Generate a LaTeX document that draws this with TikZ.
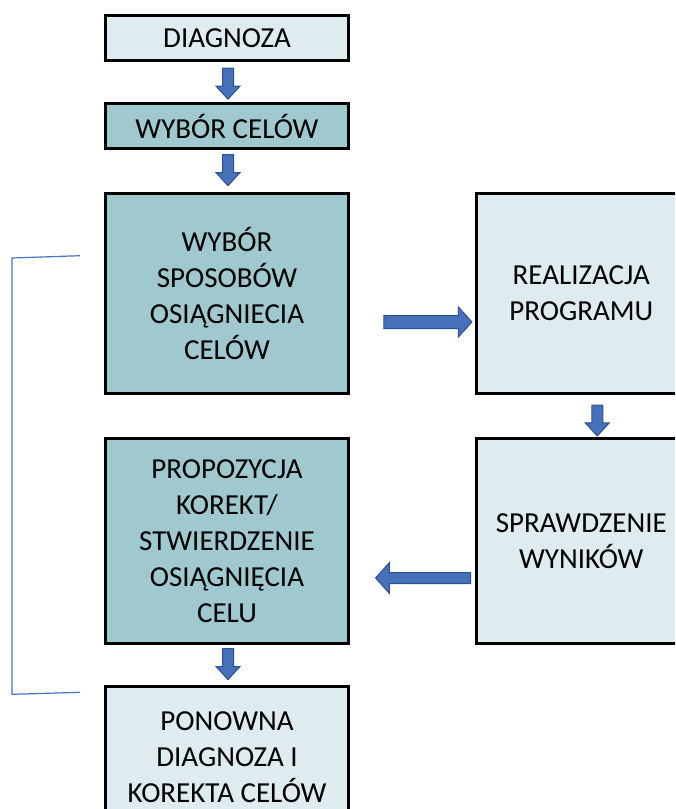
\documentclass[tikz,border=0pt]{standalone}
\usepackage{fontspec}
\setmainfont{Carlito}
\usetikzlibrary{shapes.arrows,calc}

\definecolor{jasny}{HTML}{DEEBEF}
\definecolor{ciemny}{HTML}{9FC8CF}
\definecolor{strzalkafill}{HTML}{4670BA}
\definecolor{strzalkaline}{HTML}{2F528F}
\definecolor{klamra}{HTML}{4472C4}

\tikzset{
	blok/.style={draw=black, line width=2.25pt, align=center, inner sep=0pt,
		minimum width=182.25pt},
	blokprawy/.style={blok, minimum width=157.125pt},
	strzalka/.style={single arrow, draw=strzalkaline, fill=strzalkafill,
		line width=0.75pt, inner sep=3.75pt, single arrow head indent=0pt},
	strzalkadol/.style={strzalka, shape border rotate=270, minimum height=23.25pt,
		single arrow head extend=4.875pt, single arrow tip angle=85},
}

\begin{document}
\begin{tikzpicture}[x=0.75pt, y=-0.75pt, font=\fontsize{21.75}{27}\selectfont]
		\clip (0,0) rectangle (675,809);

		\node[blok, fill=jasny, minimum height=33.75pt] (diagnoza) at (227,38) {DIAGNOZA};
		\node[blok, fill=ciemny, minimum height=33.75pt] (cele) at (227,126.5) {WYBÓR CELÓW};
		\node[blok, fill=ciemny, minimum height=150pt] (sposoby) at (227,293.5)
			{WYBÓR\\SPOSOBÓW\\OSIĄGNIECIA\\CELÓW};
		\node[blokprawy, fill=jasny, minimum height=150pt] (realizacja) at (581.25,293.5)
			{REALIZACJA\\PROGRAMU};
		\node[blokprawy, fill=jasny, minimum height=153.75pt] (sprawdzenie) at (581.25,541)
			{SPRAWDZENIE\\WYNIKÓW};
		\node[blok, fill=ciemny, minimum height=153.75pt] (propozycja) at (227,541)
			{PROPOZYCJA\\KOREKT/\\STWIERDZENIE\\OSIĄGNIĘCIA\\CELU};
		\node[blok, fill=jasny, minimum height=106.1pt] (ponowna) at (227,757.5)
			{PONOWNA\\DIAGNOZA I\\KOREKTA CELÓW};

		% strzalki
		\node[strzalkadol] (s1) at ($(diagnoza.south)!0.5!(cele.north)+(1,-1.5)$) {};
		\node[strzalkadol] (s2) at ($(cele.south)!0.5!(sposoby.north)+(1,-4)$) {};
		\node[strzalkadol] (s3) at ($(realizacja.south)!0.5!(sprawdzenie.north)+(16,1.5)$) {};
		\node[strzalkadol] (s4) at ($(propozycja.south)!0.5!(ponowna.north)+(1,-4)$) {};
		\node[strzalka, inner sep=4.5pt, minimum height=66pt,
			single arrow head extend=6.375pt, single arrow tip angle=96]
			(s5) at ($(sposoby.east)!0.5!(realizacja.west)+(12.5,28.5)$) {};
		\node[strzalka, shape border rotate=180, minimum height=71.25pt,
			single arrow head extend=7.5pt, single arrow tip angle=96]
			(s6) at ($(propozycja.east)!0.5!(sprawdzenie.west)+(13,37)$) {};

		% klamra
		\coordinate (kg) at (80,255.7);
		\coordinate (kd) at (80,692.3);
		\draw[klamra, line width=0.9pt] (kg) -- (12,258) -- (12,694.3) -- (kd);
	\end{tikzpicture}
\end{document}
